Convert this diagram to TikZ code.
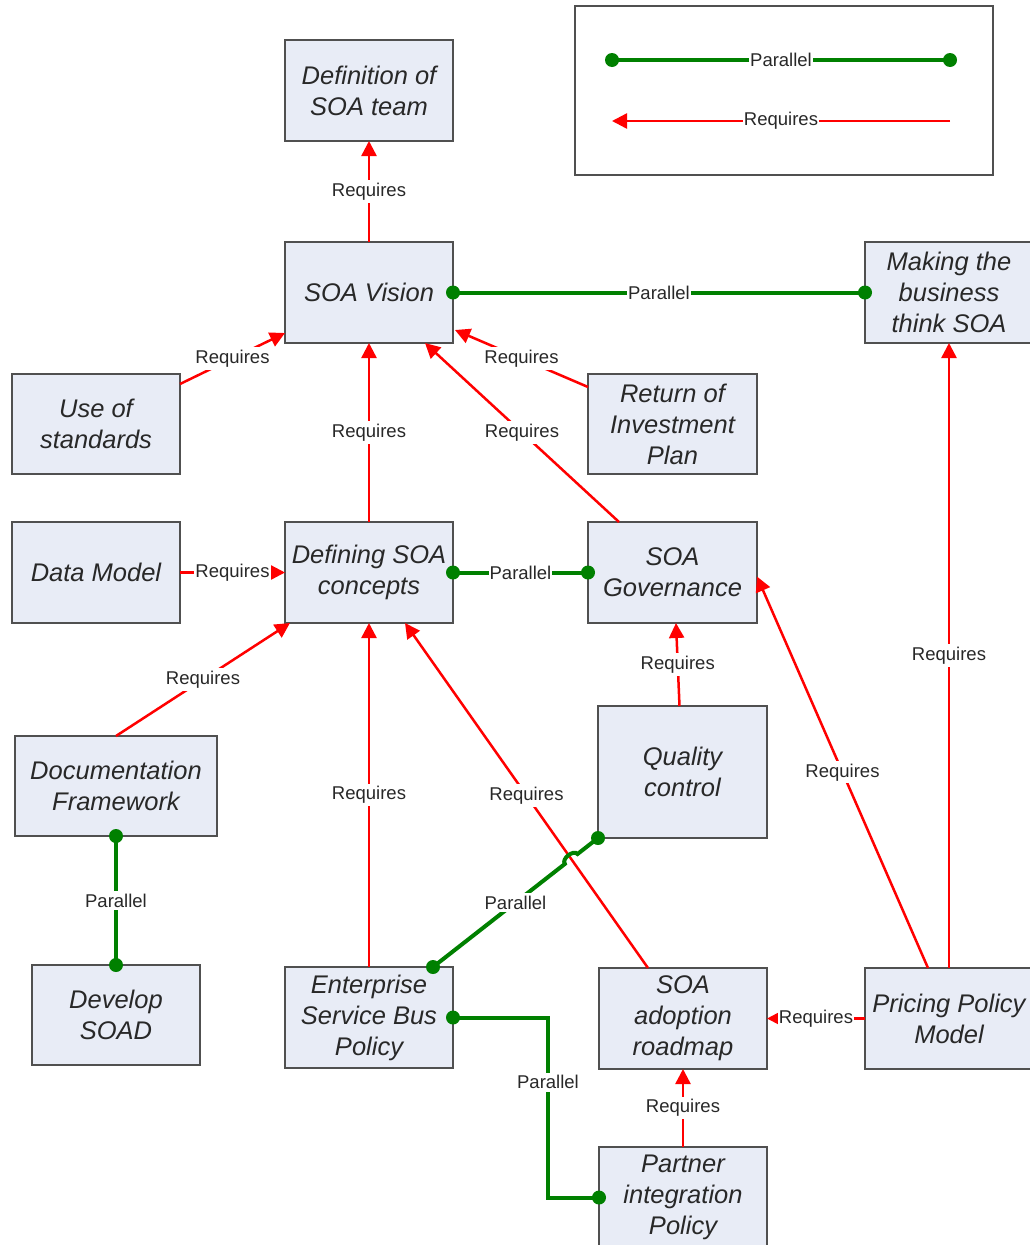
\documentclass[tikz,border=0pt]{standalone}
\usepackage{fontspec}
\setmainfont{Liberation Sans}
\usetikzlibrary{arrows.meta,calc,intersections}

\definecolor{boxfill}{RGB}{232,236,246}
\definecolor{boxline}{RGB}{80,80,80}
\definecolor{pgreen}{RGB}{0,128,0}
\definecolor{pred}{RGB}{255,0,0}
\definecolor{txt}{RGB}{40,40,40}

\tikzset{
  box/.style={draw=boxline, line width=2pt, fill=boxfill, align=center,
    text=txt, inner sep=2pt, outer sep=0pt,
    font=\itshape\fontsize{25.5}{31}\selectfont},
  req/.style={draw=pred, line width=2.5pt,
    -{Triangle[length=15pt,width=15pt]}},
  par/.style={draw=pgreen, line width=4pt},
  lbl/.style={fill=white, text=txt, inner xsep=1pt, inner ysep=2.5pt,
    font=\fontsize{18.5}{21}\selectfont},
  pdot/.style={fill=pgreen}
}

\begin{document}
\begin{tikzpicture}[x=1pt,y=-1pt]
\useasboundingbox (0,0) rectangle (1030,1245);
\fill[white] (0,0) rectangle (1030,1245);

% legend
\node[draw=boxline, line width=2pt, fill=white, minimum width=418, minimum height=169, outer sep=0pt] (legend) at (784,90.5) {};
\coordinate (la) at (612,60);
\coordinate (lb) at (950,60);
\coordinate (lc) at (950,121);
\coordinate (ld) at (612,121);
\draw[par] (la) -- node[lbl]{Parallel} (lb);
\fill[pdot] (la) circle (7pt) (lb) circle (7pt);
\draw[req] (lc) -- node[lbl]{Requires} (ld);

% boxes
\node[box, minimum width=168, minimum height=101] (def) at (369,90.5) {Definition of\\SOA team};
\node[box, minimum width=168, minimum height=101] (vision) at (369,292.5) {SOA Vision};
\node[box, minimum width=168, minimum height=101] (making) at (949,292.5) {Making the\\business\\think SOA};
\node[box, minimum width=168, minimum height=100] (use) at (96,424) {Use of\\standards};
\node[box, minimum width=169, minimum height=100] (roi) at (672.5,424) {Return of\\Investment\\Plan};
\node[box, minimum width=168, minimum height=101] (data) at (96,572.5) {Data Model};
\node[box, minimum width=168, minimum height=101] (defining) at (369,572.5) {Defining SOA\\concepts};
\node[box, minimum width=169, minimum height=101] (gov) at (672.5,572.5) {SOA\\Governance};
\node[box, minimum width=202, minimum height=100] (doc) at (116,786) {Documentation\\Framework};
\node[box, minimum width=169, minimum height=132] (qc) at (682.5,772) {Quality\\control};
\node[box, minimum width=168, minimum height=100] (soad) at (116,1015) {Develop\\SOAD};
\node[box, minimum width=168, minimum height=101] (esb) at (369,1017.5) {Enterprise\\Service Bus\\Policy};
\node[box, minimum width=168, minimum height=101] (road) at (683,1018.5) {SOA\\adoption\\roadmap};
\node[box, minimum width=168, minimum height=101] (pricing) at (949,1018.5) {Pricing Policy\\Model};
\node[box, minimum width=168, minimum height=101] (partner) at (683,1197.5) {Partner\\integration\\Policy};

% "Requires" connectors
\draw[req] (vision.north) -- node[lbl]{Requires} (def.south);
\draw[req] ($(use.north east)+(0,10)$) -- node[lbl]{Requires} ($(vision.south west)+(0,-10)$);
\draw[req] ($(roi.north west)+(0,13)$) -- node[lbl]{Requires} ($(vision.south east)+(2,-13)$);
\draw[req] (defining.north) -- node[lbl]{Requires} (vision.south);
\draw[req] ($(gov.north west)+(31,0)$) -- node[lbl]{Requires} ($(vision.south)+(56,0)$);
\draw[req] (data.east) -- node[lbl]{Requires} (defining.west);
\draw[req] (doc.north) -- node[lbl]{Requires} ($(defining.south west)+(5,0)$);
\draw[req] ($(qc.north)+(-3,0)$) -- node[lbl]{Requires} ($(gov.south)+(3.5,0)$);
\draw[req] ($(pricing.north west)+(63,0)$) -- node[lbl]{Requires} ($(gov.east)+(0,4)$);
\draw[req] (pricing.north) -- node[lbl]{Requires} (making.south);
\draw[req] (esb.north) -- node[lbl]{Requires} (defining.south);
\draw[req, name path=roadline] ($(road.north west)+(49,0)$) -- node[lbl]{Requires} ($(defining.south)+(36,0)$);
\draw[req] (pricing.west) -- node[lbl]{Requires} (road.east);
\draw[req] (partner.north) -- node[lbl]{Requires} (road.south);

% "Parallel" connectors
\draw[par] (vision.east) -- node[lbl]{Parallel} (making.west);
\fill[pdot] (vision.east) circle (7pt) (making.west) circle (7pt);

\draw[par] (defining.east) -- node[lbl]{Parallel} (gov.west);
\fill[pdot] (defining.east) circle (7pt) (gov.west) circle (7pt);

\draw[par] (doc.south) -- node[lbl]{Parallel} (soad.north);
\fill[pdot] (doc.south) circle (7pt) (soad.north) circle (7pt);

% quality control to ESB, jumping over the roadmap line
\coordinate (esbtop) at ($(esb.north east)+(-20,0)$);
\path[name path=qcline] (qc.south west) -- (esbtop);
\path[name intersections={of=roadline and qcline, by=X}];
\coordinate (j1) at ($(X)!8pt!(qc.south west)$);
\coordinate (j2) at ($(X)!8pt!(esbtop)$);
\draw[par] (qc.south west) -- (j1) to[bend right=90] (j2) -- (esbtop);
\path (qc.south west) -- node[lbl]{Parallel} (esbtop);
\fill[pdot] (qc.south west) circle (7pt) (esbtop) circle (7pt);

% ESB to partner policy, routed around
\coordinate (bendx) at (548,1100);
\draw[par] (esb.east) -- (esb.east -| bendx) -- node[lbl, pos=0.36]{Parallel} (partner.west -| bendx) -- (partner.west);
\fill[pdot] (esb.east) circle (7pt) (partner.west) circle (7pt);
\end{tikzpicture}
\end{document}
